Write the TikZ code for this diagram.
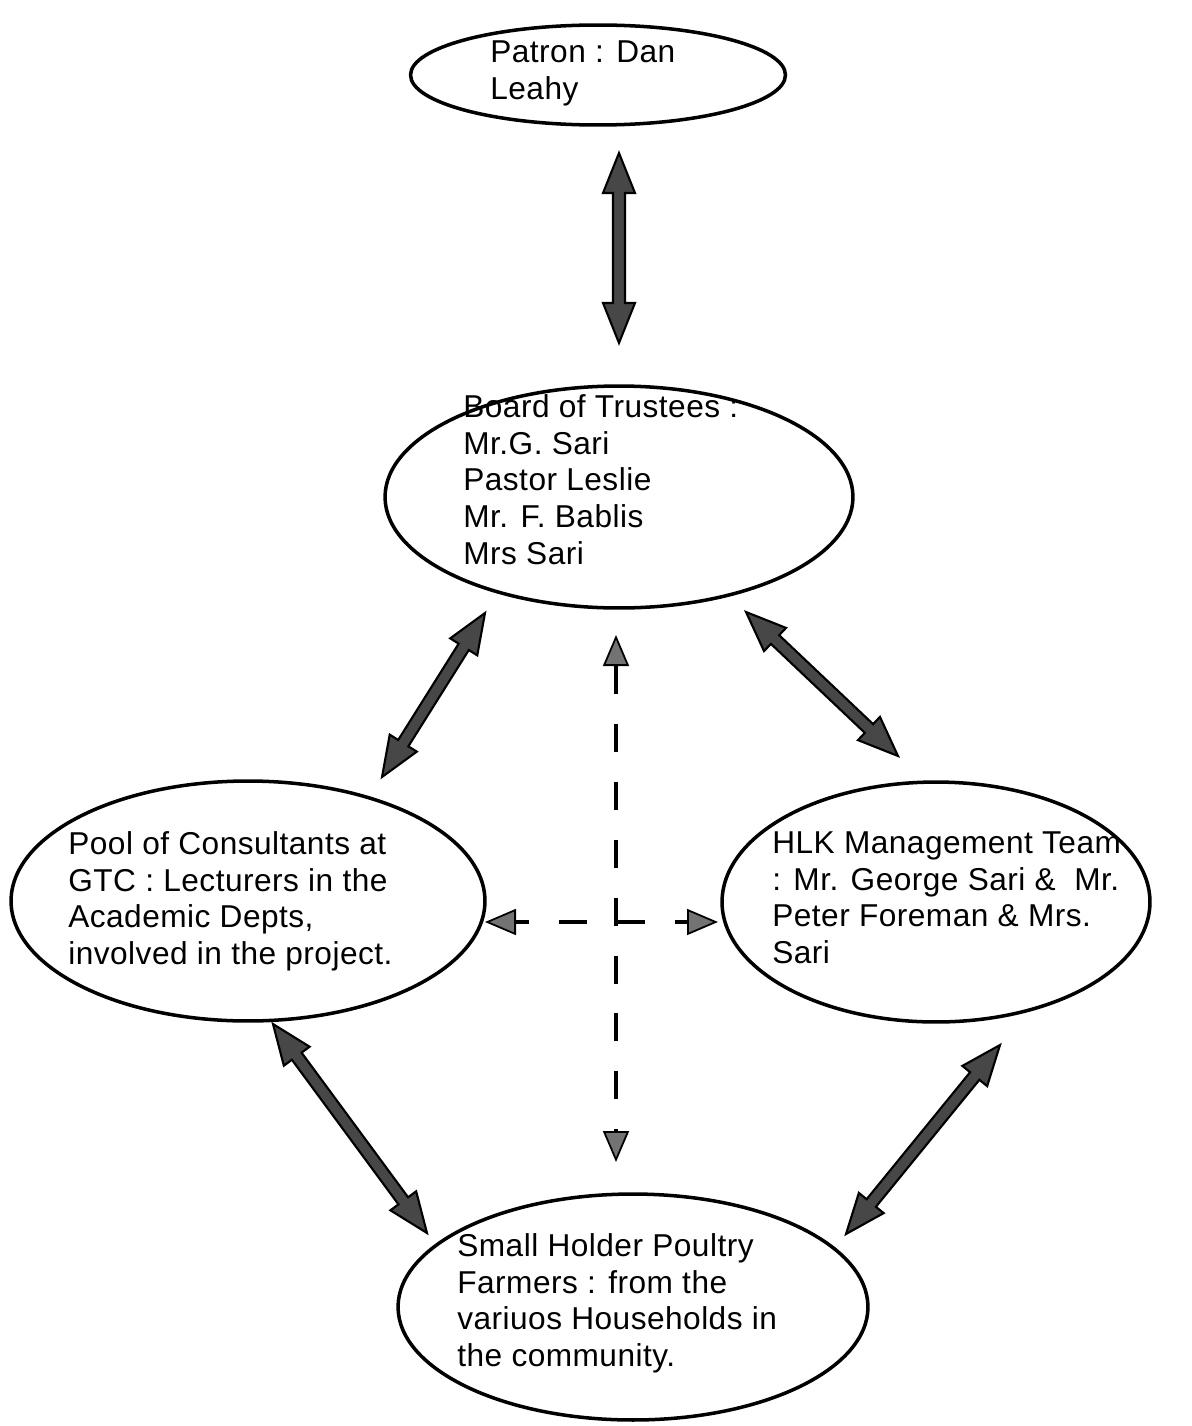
\documentclass[tikz,border=0pt]{standalone}
\usepackage{fontspec}
\setmainfont{Liberation Sans}[LetterSpace=1.5]
\usetikzlibrary{shapes.geometric,arrows.meta,calc}
\newcommand\blockarr[2]{%
  \filldraw[blockarrow] (#1)
   -- ($(#1)!0.8cm!(#2)!0.32cm!90:(#2)$)
   -- ($(#1)!0.8cm!(#2)!0.12cm!90:(#2)$)
   -- ($(#2)!0.8cm!(#1)!0.12cm!-90:(#1)$)
   -- ($(#2)!0.8cm!(#1)!0.32cm!-90:(#1)$)
   -- (#2)
   -- ($(#2)!0.8cm!(#1)!0.32cm!90:(#1)$)
   -- ($(#2)!0.8cm!(#1)!0.12cm!90:(#1)$)
   -- ($(#1)!0.8cm!(#2)!0.12cm!-90:(#2)$)
   -- ($(#1)!0.8cm!(#2)!0.32cm!-90:(#2)$)
   -- cycle;}
\tikzset{
  oval/.style={ellipse, draw=black, line width=2pt, inner sep=0pt},
  label text/.style={anchor=north west, inner sep=0pt, align=left,
    font=\fontsize{18}{21}\selectfont},
  blockarrow/.style={draw=black, line width=1.2pt, fill=black!72, line join=miter},
  dasharrow/.style={draw=black, line width=2.3pt, dash pattern=on 0.56cm off 0.6cm,
    {Triangle[width=0.52cm,length=0.62cm,fill=black!55,line width=1pt]}-{Triangle[width=0.52cm,length=0.62cm,fill=black!55,line width=1pt]}}
}
\begin{document}
\begin{tikzpicture}[x=0.02cm,y=-0.02cm]
\useasboundingbox (0,0) rectangle (1192,1426);
% ellipses
\node[oval, minimum width=7.5cm, minimum height=2.0cm] (patron) at (598,75) {};
\node[oval, minimum width=9.36cm, minimum height=4.44cm] (board) at (619,497) {};
\node[oval, minimum width=9.48cm, minimum height=4.8cm] (pool) at (248,901) {};
\node[oval, minimum width=8.56cm, minimum height=4.8cm] (hlk) at (936,902) {};
\node[oval, minimum width=9.4cm, minimum height=4.52cm] (small) at (633,1307) {};
% texts
\node[label text] (patronT) at (490,36) {\strut Patron : Dan\\Leahy};
\node[label text] (boardT) at (463,391) {\strut Board of Trustees :\\Mr.G. Sari\\Pastor Leslie\\Mr. F. Bablis\\Mrs Sari};
\node[label text] (poolT) at (68,828) {\strut Pool of Consultants at\\GTC : Lecturers in the\\Academic Depts,\\involved in the project.};
\node[label text] (hlkT) at (772,827) {\strut HLK Management Team\\: Mr. George Sari \&\ \ Mr.\\Peter Foreman \& Mrs.\\Sari};
\node[label text] (smallT) at (457,1230) {\strut Small Holder Poultry\\Farmers : from the\\variuos Households in\\the community.};
% connector end points
\coordinate (pb1) at (619,153);
\coordinate (pb2) at (619,343);
\coordinate (bp1) at (485,613);
\coordinate (bp2) at (382,777);
\coordinate (bh1) at (746,612);
\coordinate (bh2) at (898,756);
\coordinate (ps1) at (273,1024);
\coordinate (ps2) at (427,1233);
\coordinate (hs1) at (1000,1045);
\coordinate (hs2) at (846,1234);
\coordinate (dv1) at (616,635);
\coordinate (dv2) at (616,1162);
\coordinate (dh1) at (485,922);
\coordinate (dh2) at (718,922);
% block arrows
\blockarr{pb1}{pb2}
\blockarr{bp1}{bp2}
\blockarr{bh1}{bh2}
\blockarr{ps1}{ps2}
\blockarr{hs1}{hs2}
% dashed arrows
\draw[dasharrow] (dv1) -- (dv2);
\draw[dasharrow, dash phase=0.3cm] (dh1) -- (dh2);
\end{tikzpicture}
\end{document}
